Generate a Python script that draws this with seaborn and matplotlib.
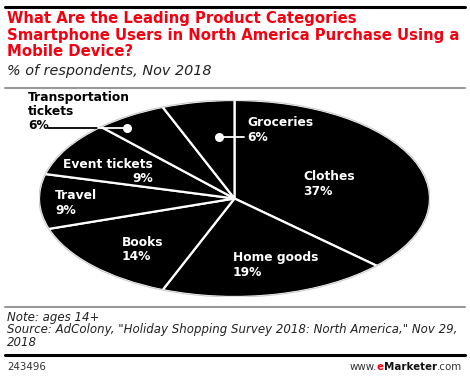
import matplotlib
matplotlib.use("Agg")
import matplotlib.pyplot as plt
import seaborn as sns
from matplotlib.patches import Ellipse

sns.set_theme(style="white")
plt.rcParams['font.family'] = ['DejaVu Sans']

categories = ["Clothes", "Home goods", "Books", "Travel", "Event tickets",
              "Transportation tickets", "Groceries"]
values = [37, 19, 14, 9, 9, 6, 6]
label_texts = ["Clothes\n37%", "Home goods\n19%", "Books\n14%", "Travel\n9%",
               "Event tickets\n9%", "Transportation\ntickets\n6%", "Groceries\n6%"]

title = ("What Are the Leading Product Categories\n"
         "Smartphone Users in North America Purchase Using a\n"
         "Mobile Device?")
subtitle = "% of respondents, Nov 2018"
note = ("Note: ages 14+\n"
        "Source: AdColony, \"Holiday Shopping Survey 2018: North America,\" Nov 29,\n"
        "2018")
chart_id = "243496"

W, H = 470, 378
fig = plt.figure(figsize=(W / 100, H / 100), dpi=100)
fig.patch.set_facecolor("white")

def fx(x):
    return x / W

def fy(y):
    return 1 - y / H

RED = "#f50010"

# header
fig.add_artist(plt.Line2D([fx(5), fx(465)], [fy(6.5), fy(6.5)], color="black", lw=2.2))
fig.text(fx(7), fy(11), title, color=RED, fontsize=10.75, fontweight="heavy",
         va="top", ha="left", linespacing=1.13)
fig.text(fx(7), fy(64), subtitle, color="#222222", fontsize=10.4, style="italic",
         va="top", ha="left")
fig.add_artist(plt.Line2D([fx(5), fx(465)], [fy(87.5), fy(87.5)], color="#999999", lw=1.5))

# pie as ellipse
ax = fig.add_axes([fx(39), fy(297), (430 - 39) / W, (297 - 100) / H])
wedges, _ = ax.pie(values, startangle=90, counterclock=False,
                   colors=["black"] * len(values),
                   wedgeprops=dict(edgecolor="white", linewidth=1.6))
ax.set_aspect("auto")
ax.set_xlim(-1, 1)
ax.set_ylim(-1, 1)
ax.axis("off")
ax.add_patch(Ellipse((0, 0), 2.0, 2.0, fill=False, edgecolor="#cccccc", lw=0.8))

# labels
lbl = dict(color="white", fontsize=8.8, fontweight="bold", va="top", linespacing=1.15)
pos = {
    "Clothes": (303, 170.5, "left"),
    "Home goods": (233, 251.5, "left"),
    "Books": (122, 235.5, "left"),
    "Travel": (55, 189.5, "left"),
    "Event tickets": (153, 157.5, "right"),
    "Groceries": (247, 116.5, "left"),
}
for cat, txt in zip(categories, label_texts):
    if cat in pos:
        x, y, ha = pos[cat]
        fig.text(fx(x), fy(y), txt, ha=ha, multialignment=ha, **lbl)

fig.text(fx(28), fy(91), label_texts[5], color="black", fontsize=8.8,
         fontweight="bold", va="top", ha="left", linespacing=1.1)

# leader lines
fig.add_artist(plt.Line2D([fx(219), fx(244)], [fy(137), fy(137)], color="white", lw=1.3))
fig.add_artist(plt.Line2D([fx(219)], [fy(137)], marker="o", ms=5.5, color="white", mec="white"))
fig.add_artist(plt.Line2D([fx(48), fx(97.5)], [fy(128), fy(128)], color="black", lw=1.3))
fig.add_artist(plt.Line2D([fx(97.5), fx(127)], [fy(128), fy(128)], color="white", lw=1.3))
fig.add_artist(plt.Line2D([fx(127)], [fy(128)], marker="o", ms=5.5, color="white", mec="white"))

# footer
fig.add_artist(plt.Line2D([fx(5), fx(465)], [fy(307), fy(307)], color="#999999", lw=1.5))
fig.text(fx(7), fy(310.5), note, color="#222222", fontsize=8.5, style="italic",
         va="top", ha="left", linespacing=0.99)
fig.add_artist(plt.Line2D([fx(5), fx(465)], [fy(354.5), fy(354.5)], color="black", lw=2.2))
fig.text(fx(7), fy(367), chart_id, color="#333333", fontsize=7.4, va="center", ha="left")

# www.eMarketer.com
t1 = fig.text(fx(462), fy(367), ".com", color="#333333", fontsize=7.4, va="center", ha="right")
fig.canvas.draw()
r = fig.canvas.get_renderer()
bb = t1.get_window_extent(r)
t2 = fig.text(bb.x0 / W, fy(367), "Marketer", color="#111111", fontsize=7.4,
              fontweight="bold", va="center", ha="right")
bb = t2.get_window_extent(r)
t3 = fig.text(bb.x0 / W, fy(367), "e", color=RED, fontsize=7.4,
              fontweight="bold", va="center", ha="right")
bb = t3.get_window_extent(r)
fig.text(bb.x0 / W, fy(367), "www.", color="#333333", fontsize=7.4, va="center", ha="right")

fig.savefig("out.png", dpi=100, facecolor="white")
